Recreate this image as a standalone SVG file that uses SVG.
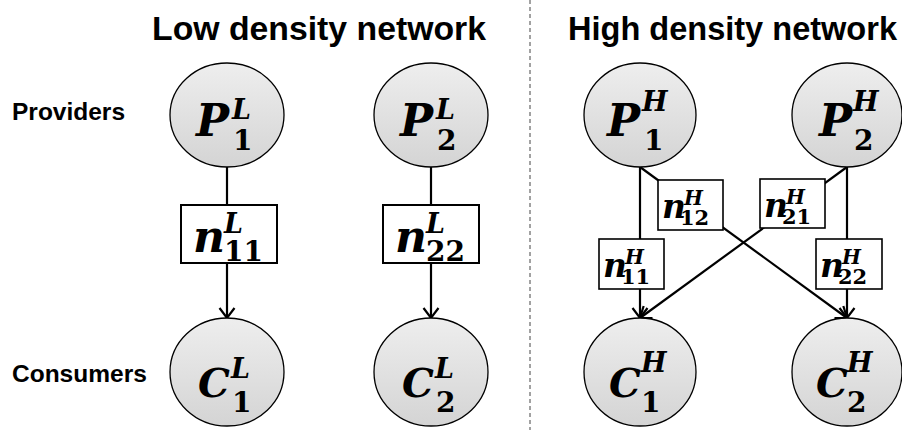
<svg xmlns="http://www.w3.org/2000/svg" width="902" height="430" viewBox="0 0 902 430">
<defs>
<linearGradient id="g" x1="0" y1="0" x2="0" y2="1">
<stop offset="0" stop-color="#eeeeee"/>
<stop offset="1" stop-color="#d4d4d4"/>
</linearGradient>
<marker id="arr" viewBox="-2 -2 14 19" refX="10" refY="7.5" markerWidth="14" markerHeight="19" markerUnits="userSpaceOnUse" orient="auto">
<path d="M0,0 L10,7.5 L0,15" fill="none" stroke="#000" stroke-width="2.2"/>
</marker>
</defs>
<style>
.node{fill:url(#g);stroke:#000;stroke-width:1.3}
.box{fill:#fff;stroke:#000;stroke-width:2}
.boxs{fill:#fff;stroke:#000;stroke-width:1.6}
.edge{fill:none;stroke:#000;stroke-width:2.2}
.title{font-family:"Liberation Sans",Arial,sans-serif;font-weight:bold;font-size:33px;fill:#000}
.side{font-family:"Liberation Sans",Arial,sans-serif;font-weight:bold;font-size:24.5px;fill:#000}
.m{font-family:"DejaVu Serif",serif;font-weight:bold;font-style:italic;font-size:44px;fill:#000}
.mc{font-family:"DejaVu Serif",serif;font-weight:bold;font-style:italic;font-size:40px;fill:#000}
.ms{font-family:"DejaVu Serif",serif;font-weight:bold;font-style:italic;font-size:27px;fill:#000}
.md{font-family:"DejaVu Serif",serif;font-weight:bold;font-size:28px;fill:#000}
.hm{font-family:"DejaVu Serif",serif;font-weight:bold;font-style:italic;font-size:33px;fill:#000}
.hs{font-family:"DejaVu Serif",serif;font-weight:bold;font-style:italic;font-size:20px;fill:#000}
.hd{font-family:"DejaVu Serif",serif;font-weight:bold;font-size:21px;fill:#000}
</style>
<rect width="902" height="430" fill="#fff"/>
<line x1="530" y1="0" x2="530" y2="430" stroke="#444" stroke-width="1" stroke-dasharray="4,3"/>
<text class="title" x="152" y="40" textLength="334" lengthAdjust="spacingAndGlyphs">Low density network</text>
<text class="title" x="568" y="40" textLength="329" lengthAdjust="spacingAndGlyphs">High density network</text>
<text class="side" x="12" y="120">Providers</text>
<text class="side" x="12" y="382">Consumers</text>
<g id="connectors">
<line class="edge" x1="227" y1="167" x2="227" y2="318" marker-end="url(#arr)"/>
<line class="edge" x1="431" y1="167" x2="431" y2="318" marker-end="url(#arr)"/>
<line class="edge" x1="640" y1="167" x2="640" y2="318" marker-end="url(#arr)"/>
<line class="edge" x1="847" y1="167" x2="847" y2="318" marker-end="url(#arr)"/>
<line class="edge" x1="640" y1="167" x2="847" y2="318" marker-end="url(#arr)"/>
<line class="edge" x1="847" y1="167" x2="640" y2="318" marker-end="url(#arr)"/>
</g>
<g id="P1L"><ellipse class="node" cx="227" cy="115" rx="57" ry="52"/>
<text class="m" x="196" y="136">P</text><text class="ms" x="232" y="119">L</text><text class="md" x="233" y="150">1</text></g>
<g id="P2L"><ellipse class="node" cx="431" cy="115" rx="57" ry="52"/>
<text class="m" x="400" y="136">P</text><text class="ms" x="436" y="119">L</text><text class="md" x="437" y="150">2</text></g>
<g id="C1L"><ellipse class="node" cx="227" cy="372" rx="57" ry="54"/>
<text class="mc" x="198" y="397">C</text><text class="ms" x="231" y="378">L</text><text class="md" x="232" y="412">1</text></g>
<g id="C2L"><ellipse class="node" cx="431" cy="372" rx="57" ry="54"/>
<text class="mc" x="402" y="397">C</text><text class="ms" x="435" y="378">L</text><text class="md" x="436" y="412">2</text></g>
<g id="n11L"><rect class="box" x="181" y="205" width="96" height="58"/>
<text class="m" x="193" y="252">n</text><text class="ms" x="224" y="233">L</text><text class="md" x="224" y="261">11</text></g>
<g id="n22L"><rect class="box" x="383" y="205" width="96" height="58"/>
<text class="m" x="395" y="252">n</text><text class="ms" x="426" y="233">L</text><text class="md" x="426" y="261">22</text></g>
<g id="P1H"><ellipse class="node" cx="640" cy="115" rx="56" ry="52"/>
<text class="m" x="607" y="136">P</text><text class="ms" x="642" y="111">H</text><text class="md" x="644" y="150">1</text></g>
<g id="P2H"><ellipse class="node" cx="847" cy="115" rx="55" ry="52"/>
<text class="m" x="819" y="136">P</text><text class="ms" x="853" y="111">H</text><text class="md" x="854" y="150">2</text></g>
<g id="C1H"><ellipse class="node" cx="640" cy="372" rx="56" ry="54"/>
<text class="mc" x="609" y="397">C</text><text class="ms" x="641" y="372">H</text><text class="md" x="641" y="412">1</text></g>
<g id="C2H"><ellipse class="node" cx="847" cy="372" rx="55" ry="54"/>
<text class="mc" x="816" y="397">C</text><text class="ms" x="847" y="372">H</text><text class="md" x="847" y="412">2</text></g>
<g id="n12H"><rect class="boxs" x="658" y="180" width="65" height="50"/>
<text class="hm" x="662" y="218">n</text><text class="hs" x="684" y="205">H</text><text class="hd" x="680" y="225">12</text></g>
<g id="n21H"><rect class="boxs" x="760" y="179" width="65" height="49"/>
<text class="hm" x="764" y="217">n</text><text class="hs" x="786" y="204">H</text><text class="hd" x="782" y="224">21</text></g>
<g id="n11H"><rect class="boxs" x="599" y="239" width="65" height="50"/>
<text class="hm" x="603" y="277">n</text><text class="hs" x="625" y="264">H</text><text class="hd" x="621" y="284">11</text></g>
<g id="n22H"><rect class="boxs" x="816" y="239" width="66" height="50"/>
<text class="hm" x="820" y="277">n</text><text class="hs" x="842" y="264">H</text><text class="hd" x="838" y="284">22</text></g>
</svg>
